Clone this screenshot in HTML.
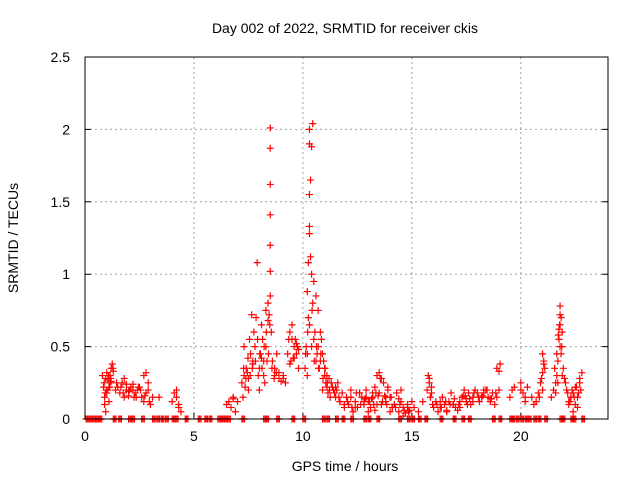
<!DOCTYPE html>
<html><head><meta charset="utf-8"><style>
body{margin:0;background:#fff;}
svg{display:block;font-family:"Liberation Sans",sans-serif;}
</style></head><body>
<svg id="chart" width="640" height="480">
<text x="345" y="33" font-size="14" text-anchor="middle">Day 002 of 2022, SRMTID for receiver ckis</text>
<text x="345" y="471" font-size="14" text-anchor="middle">GPS time / hours</text>
<text x="18" y="238" font-size="14" text-anchor="middle" transform="rotate(-90 18 238)">SRMTID / TECUs</text>
<g id="grid"></g><g id="marks"></g>
<rect x="85" y="57" width="523" height="362" fill="none" stroke="#000" stroke-width="1"/>
</svg>
<script>
const xTicks=[0,5,10,15,20];
const yTicks=[0,0.5,1,1.5,2,2.5];
const yTickLabels=["0","0.5","1","1.5","2","2.5"];
const times=[
0.8,0.85,0.9,0.95,1.0,1.05,1.1,1.15,1.2,1.25,1.3,0.9,1.0,1.1,1.2,0.95,1.05,1.15,
1.4,1.5,1.6,1.7,1.8,1.9,2.0,2.1,2.2,2.3,2.4,1.8,1.9,2.0,2.2,2.35,
2.5,2.6,2.7,2.8,2.9,3.0,3.1,2.7,2.8,2.9,3.4,
4.0,4.1,4.2,4.3,4.4,4.2,4.3,
6.5,6.6,6.7,6.8,6.9,7.0,6.8,
7.2,7.3,7.4,7.5,7.6,7.7,7.25,7.35,7.45,7.55,7.65,7.75,7.3,7.5,7.7,
7.8,7.9,8.0,8.1,8.2,8.3,8.4,8.5,8.55,7.85,7.95,8.05,8.15,8.25,8.35,8.45,8.5,8.5,8.5,8.5,8.5,8.0,8.2,8.4,8.3,8.1,
8.6,8.7,8.8,8.9,9.0,9.1,9.2,8.7,8.9,9.1,
9.3,9.4,9.5,9.6,9.7,9.8,9.4,9.5,9.6,9.7,9.8,9.45,9.65,
10.1,10.15,10.2,10.25,10.3,10.35,10.4,10.45,10.5,10.55,10.6,10.2,10.25,10.3,10.3,10.3,10.3,10.35,10.4,10.45,10.2,10.3,10.4,10.5,
10.6,10.7,10.8,10.9,11.0,11.1,11.2,11.3,10.7,10.8,10.9,11.0,11.1,10.65,10.75,10.85,10.95,11.05,11.15,11.25,
11.4,11.5,11.6,11.7,11.8,11.9,12.0,11.5,11.7,11.9,
12.1,12.2,12.3,12.4,12.5,12.6,12.7,12.8,12.9,13.0,13.1,13.2,13.3,13.4,13.5,13.6,13.7,13.8,13.9,14.0,14.1,14.2,14.3,14.4,14.5,14.6,14.7,14.8,14.9,15.0,
12.2,12.4,12.6,12.8,13.0,13.2,13.4,13.6,13.8,14.0,14.2,14.4,14.6,14.8,13.5,13.55,13.9,14.1,12.9,13.3,14.5,
15.1,15.3,15.5,15.7,15.75,15.8,15.85,15.9,15.95,16.0,15.8,15.9,
16.1,16.2,16.3,16.4,16.5,16.6,16.7,16.8,16.9,17.0,17.1,17.2,17.3,17.4,17.5,17.6,17.7,17.8,17.9,18.0,16.3,16.6,16.9,17.2,17.5,17.8,17.35,17.55,
18.1,18.2,18.3,18.4,18.5,18.6,18.7,18.8,18.9,19.0,18.3,18.6,18.9,19.0,19.05,
19.5,19.6,19.7,20.0,20.1,20.2,20.3,20.0,20.2,
20.5,20.6,20.7,20.8,20.9,21.0,21.0,21.05,21.1,20.95,21.0,21.05,20.7,20.85,
21.4,21.5,21.6,21.65,21.7,21.75,21.8,21.85,21.9,21.95,22.0,21.8,21.8,21.8,21.85,21.75,21.6,21.7,21.9,
22.1,22.2,22.3,22.4,22.5,22.6,22.7,22.8,22.2,22.4,22.6,22.7,22.75,22.3,22.5,
8.5,0.88,0.98,1.08,1.18,1.28,0.93,1.13,1.45,1.65,1.75,2.05,2.25,2.45,2.55,2.75,2.95,
7.28,7.38,7.48,7.58,7.68,7.82,7.92,8.02,8.12,8.22,8.32,8.42,8.48,8.58,8.68,8.78,
9.35,9.55,9.75,10.12,10.22,10.42,10.52,10.62,10.72,10.82,10.92,11.02,11.12,11.22,11.35,11.45,11.55,11.65,
12.05,12.25,12.45,12.65,12.85,13.05,13.25,13.45,13.65,13.85,14.05,14.25,14.45,14.65,14.85,13.15,13.35,13.75,
16.15,16.35,16.55,16.75,16.95,17.15,17.45,17.65,17.85,18.05,18.25,18.45,18.65,18.85,
21.55,21.65,21.72,21.78,21.88,22.05,22.15,22.25,22.35,22.45,22.55,22.65];
const values=[
0.3,0.22,0.15,0.28,0.32,0.2,0.12,0.25,0.35,0.38,0.33,0.1,0.18,0.22,0.26,0.05,0.27,0.3,
0.2,0.22,0.18,0.25,0.28,0.2,0.16,0.22,0.24,0.18,0.2,0.15,0.24,0.19,0.2,0.15,
0.22,0.15,0.12,0.18,0.25,0.1,0.15,0.3,0.32,0.2,0.15,
0.12,0.18,0.2,0.1,0.05,0.15,0.08,
0.1,0.12,0.08,0.15,0.05,0.12,0.14,
0.25,0.3,0.35,0.2,0.45,0.4,0.15,0.22,0.32,0.55,0.72,0.6,0.5,0.28,0.38,
0.5,1.08,0.35,0.65,0.4,0.75,0.8,0.85,0.6,0.7,0.3,0.45,0.55,0.25,0.4,0.72,1.02,1.2,1.41,1.62,1.87,0.2,0.3,0.68,0.5,0.42,
0.4,0.3,0.45,0.28,0.26,0.3,0.25,0.35,0.32,0.28,
0.45,0.38,0.55,0.5,0.45,0.35,0.6,0.65,0.42,0.52,0.48,0.4,0.55,
0.35,0.5,0.88,1.08,1.55,1.65,1.88,2.04,0.95,0.6,0.4,0.3,0.7,1.33,1.9,2.0,1.28,1.12,1.0,0.8,0.45,0.65,0.5,0.55,
0.85,0.75,0.6,0.45,0.35,0.3,0.28,0.25,0.5,0.4,0.2,0.3,0.22,0.45,0.35,0.55,0.4,0.25,0.18,0.15,
0.2,0.15,0.25,0.12,0.18,0.1,0.15,0.22,0.12,0.08,
0.1,0.15,0.05,0.12,0.08,0.18,0.15,0.1,0.2,0.12,0.08,0.15,0.22,0.3,0.18,0.1,0.25,0.12,0.2,0.15,0.08,0.1,0.18,0.05,0.12,0.08,0.04,0.1,0.06,0.12,
0.2,0.08,0.18,0.12,0.05,0.18,0.1,0.28,0.15,0.05,0.1,0.14,0.02,0.08,0.32,0.28,0.22,0.08,0.15,0.06,0.2,
0.08,0.05,0.12,0.2,0.3,0.25,0.15,0.22,0.1,0.08,0.28,0.18,
0.12,0.05,0.08,0.15,0.1,0.05,0.12,0.18,0.1,0.08,0.06,0.12,0.15,0.2,0.12,0.18,0.1,0.15,0.2,0.18,0.12,0.06,0.1,0.08,0.14,0.12,0.16,0.1,
0.12,0.15,0.18,0.2,0.15,0.12,0.18,0.1,0.15,0.2,0.2,0.14,0.35,0.33,0.38,
0.15,0.2,0.22,0.2,0.18,0.15,0.22,0.25,0.12,
0.15,0.1,0.12,0.18,0.25,0.32,0.45,0.4,0.35,0.28,0.2,0.38,0.12,0.15,
0.15,0.2,0.25,0.3,0.4,0.55,0.65,0.7,0.6,0.35,0.28,0.78,0.72,0.5,0.45,0.62,0.18,0.25,0.3,
0.2,0.1,0.15,0.05,0.22,0.15,0.25,0.32,0.12,0.18,0.08,0.28,0.2,0.15,0.1,
2.01,0.25,0.2,0.3,0.28,0.35,0.18,0.22,0.25,0.22,0.18,0.2,0.15,0.22,0.2,0.16,0.12,
0.35,0.28,0.42,0.3,0.35,0.4,0.55,0.45,0.35,0.5,0.6,0.45,0.65,0.35,0.28,0.32,
0.55,0.42,0.5,0.45,0.6,0.75,0.4,0.5,0.35,0.45,0.28,0.35,0.25,0.2,0.22,0.18,0.2,0.15,
0.12,0.08,0.18,0.1,0.14,0.12,0.1,0.16,0.12,0.1,0.15,0.08,0.1,0.06,0.05,0.14,0.18,0.16,
0.1,0.08,0.12,0.1,0.14,0.1,0.16,0.14,0.18,0.15,0.16,0.2,0.14,0.18,
0.35,0.45,0.58,0.65,0.5,0.25,0.18,0.12,0.2,0.15,0.22,0.18];
const zeroTimes=[0.05,0.2,0.35,0.5,0.65,1.3,1.55,2.0,2.15,2.6,3.1,3.3,3.5,3.7,4.0,4.15,4.6,5.2,5.5,5.7,6.1,6.25,6.4,6.55,7.2,8.2,8.3,8.8,9.5,10.0,10.9,11.1,11.5,11.8,12.2,12.8,13.0,13.4,14.4,14.8,15.0,15.3,15.6,16.3,16.9,17.3,17.6,18.7,19.0,19.5,19.6,19.8,20.0,20.2,20.35,20.6,20.8,21.1,21.8,21.9,22.3,22.4,22.8];
const xScale=h=>85+h*(523/24);
const yScale=v=>419-v*(362/2.5);
const NS="http://www.w3.org/2000/svg";
const grid=document.getElementById('grid'),marks=document.getElementById('marks');
function mk(t,a){const e=document.createElementNS(NS,t);for(const k in a)e.setAttribute(k,a[k]);return e;}
xTicks.forEach(t=>{const x=xScale(t);
 if(t>0){const l=mk('line',{x1:x,x2:x,y1:57,y2:419,stroke:'#a0a0a0','stroke-dasharray':'2,3'});
 
 grid.appendChild(l);}
 const tk=mk('line',{x1:x,x2:x,y1:419,y2:413,stroke:'#000'});
 
 grid.appendChild(tk);
 const tx=mk('text',{x:x,y:441,'font-size':14,'text-anchor':'middle'});tx.textContent=t;
 
 grid.appendChild(tx);});
yTicks.forEach((t,i)=>{const y=yScale(t);
 if(t>0&&t<2.5){const l=mk('line',{x1:85,x2:608,y1:y,y2:y,stroke:'#a0a0a0','stroke-dasharray':'2,3'});
 
 grid.appendChild(l);}
 const tk=mk('path',{d:`M85 ${y}h6M608 ${y}h-6`,stroke:'#000'});
 
 grid.appendChild(tk);
 const tx=mk('text',{x:70,y:y+5,'font-size':14,'text-anchor':'end'});tx.textContent=yTickLabels[i];
 
 grid.appendChild(tx);});
function plus(h,v){const x=xScale(h),y=yScale(v);
 const p=mk('path',{d:`M${x-3.5} ${y}h7M${x} ${y-3.5}v7`,stroke:'#ff0000','stroke-width':1.2});
 
 marks.appendChild(p);}
zeroTimes.forEach(h=>{plus(h,0);plus(h+0.06,0);plus(h+0.12,0);});
times.forEach((h,i)=>plus(h,values[i]));
</script>
</body></html>
